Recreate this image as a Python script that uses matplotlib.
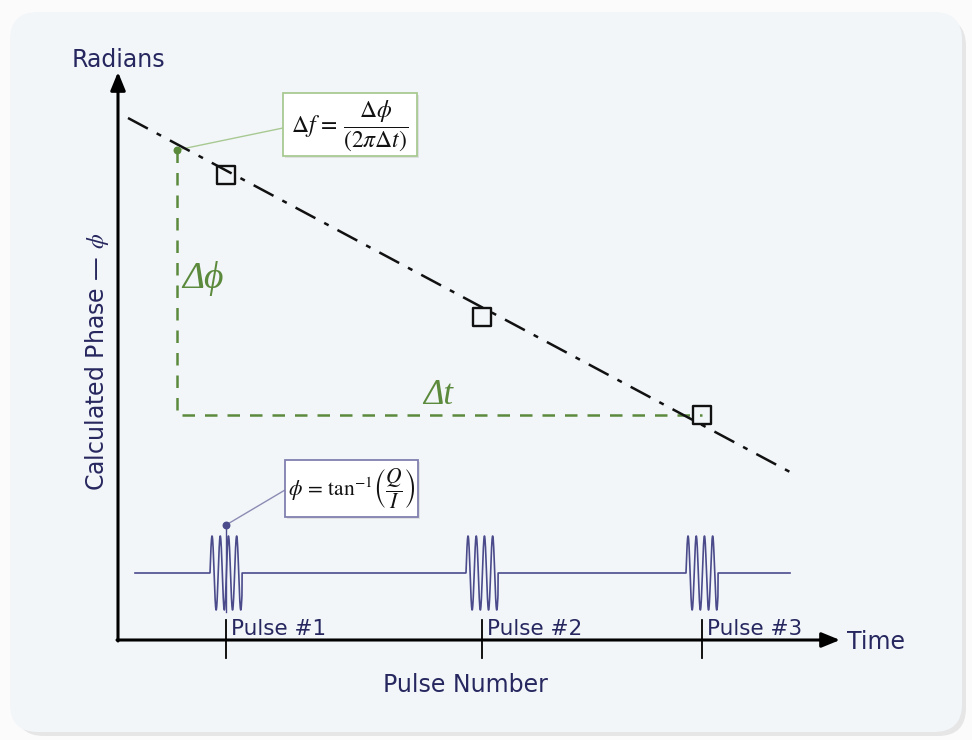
import numpy as np
import matplotlib.pyplot as plt
from matplotlib.patches import FancyBboxPatch, Rectangle

plt.rcParams['font.family'] = ['DejaVu Sans']
plt.rcParams['mathtext.fontset'] = 'stix'

# pulse positions along the time axis and the phase measured at each
pulse_x = [226, 482, 702]
phase_y = [175, 317, 415]
pulse_labels = ['Pulse #1', 'Pulse #2', 'Pulse #3']

# fitted phase trend (start / end points)
trend_x = [128, 790]
trend_y = [118, 472]

navy = '#27275f'
wave = '#4b4b8c'
green = '#5b8a3c'
serif_it = dict(family=['Liberation Serif', 'DejaVu Serif'], style='italic')

fig = plt.figure(figsize=(9.72, 7.40), dpi=100)
ax = fig.add_axes([0, 0, 1, 1])
ax.set_xlim(0, 972)
ax.set_ylim(740, 0)
ax.axis('off')
fig.patch.set_facecolor('#fbfbfb')

# panel with soft shadow
ax.add_patch(FancyBboxPatch((16, 18), 950, 718, boxstyle='round,pad=0,rounding_size=28',
                            fc='#d8d8d8', ec='none', alpha=0.6, zorder=0))
ax.add_patch(FancyBboxPatch((10, 12), 952, 720, boxstyle='round,pad=0,rounding_size=28',
                            fc='#f2f6f9', ec='none', zorder=0))

# axes arrows
ax.annotate('', xy=(118, 72), xytext=(118, 641),
            arrowprops=dict(arrowstyle='-|>,head_length=1.1,head_width=0.45', lw=2.2,
                            color='black', shrinkA=0, shrinkB=0))
ax.annotate('', xy=(840, 640), xytext=(117, 640),
            arrowprops=dict(arrowstyle='-|>,head_length=1.1,head_width=0.45', lw=2.2,
                            color='black', shrinkA=0, shrinkB=0))

ax.text(118, 60, 'Radians', color=navy, fontsize=17, ha='center', va='center')
ax.text(847, 642, 'Time', color=navy, fontsize=17, ha='left', va='center')
ax.text(465, 685, 'Pulse Number', color=navy, fontsize=17, ha='center', va='center')
ax.text(97, 362, r'Calculated Phase — $\phi$', color=navy, fontsize=17,
        rotation=90, ha='center', va='center')

# trend line through the measured phases
ax.plot(trend_x, trend_y, color='#111111', lw=1.8, ls=(0, (9, 4, 2, 4)), zorder=3)
ax.scatter(pulse_x, phase_y, s=170, marker='s', facecolors='none',
           edgecolors='#111111', linewidths=1.7, zorder=4)

# delta phi / delta t construction
ax.plot([177, 177, pulse_x[2]], [150, 415, 415], color=green, lw=1.8,
        ls=(0, (5, 4)), zorder=2)
ax.scatter([177], [150], s=22, color=green, zorder=5)
ax.text(203, 279, 'Δϕ', color=green, fontsize=27, ha='center', va='center', **serif_it)
ax.text(438, 396, 'Δt', color=green, fontsize=25, ha='center', va='center', **serif_it)

# baseband pulse train
base_y = 573
xs = np.linspace(135, 790, 4000)
ys = np.full_like(xs, base_y, dtype=float)
for cx in pulse_x:
    inside = np.abs(xs - cx) <= 16
    ys[inside] = base_y - 37 * np.sin(2 * np.pi * (xs[inside] - cx + 16) / 8.2)
ax.plot(xs, ys, color=wave, lw=1.2, zorder=3)

for cx, lab in zip(pulse_x, pulse_labels):
    ax.plot([cx, cx], [620, 658], color='black', lw=1.3, zorder=3)
    ax.text(cx + 5, 629, lab, color=navy, fontsize=15.5, ha='left', va='center')
ax.plot([pulse_x[0], pulse_x[0]], [526, 612], color=wave, lw=1.0, zorder=3)

# formula boxes with leader lines
ax.plot([177, 283], [150, 128], color='#a9c993', lw=1.0, zorder=2)
ax.add_patch(Rectangle((285, 95), 134, 63, fc='#d8d8d8', ec='none', alpha=0.7, zorder=5))
ax.add_patch(Rectangle((283, 93), 134, 63, fc='white', ec='#a9c993', lw=1.3, zorder=6))
ax.text(350, 126, r'$\Delta f\,=\,\dfrac{\Delta\phi}{(2\pi\Delta t)}$', fontsize=17,
        ha='center', va='center', zorder=7, color='#111111')

ax.scatter([pulse_x[0]], [525], s=22, color=wave, zorder=5)
ax.plot([pulse_x[0], 285], [525, 490], color='#8c8cb4', lw=1.0, zorder=2)
ax.add_patch(Rectangle((287, 462), 133, 57, fc='#d8d8d8', ec='none', alpha=0.7, zorder=5))
ax.add_patch(Rectangle((285, 460), 133, 57, fc='white', ec='#8080b0', lw=1.3, zorder=6))
ax.text(352, 489, r'$\phi\,=\,\tan^{-1}\!\left(\dfrac{Q}{I}\right)$', fontsize=15.5,
        ha='center', va='center', zorder=7, color='#111111')

fig.savefig('out.png', dpi=100, facecolor=fig.get_facecolor())
